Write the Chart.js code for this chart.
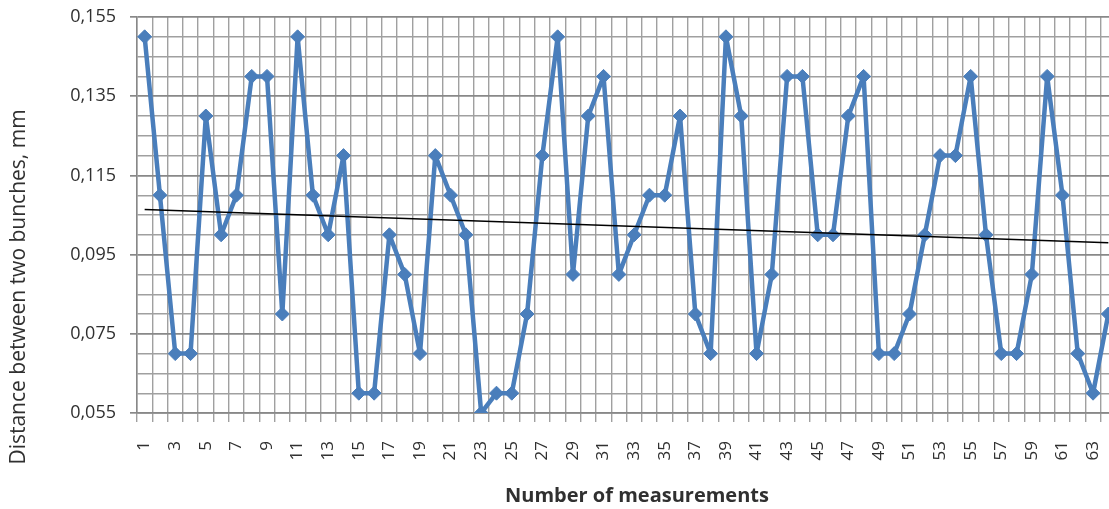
<!DOCTYPE html>
<html>
<head>
<meta charset="utf-8">
<script src="https://cdn.jsdelivr.net/npm/chart.js@4/dist/chart.umd.min.js"></script>
<style>
  html, body { margin: 0; padding: 0; background: #fff; overflow: hidden; }
  #wrap { width: 1124px; height: 509px; }
</style>
</head>
<body>
<div id="wrap"><canvas id="chart" width="1124" height="509"></canvas></div>
<script>
// measurement numbers 1..64
const measurements = ['1','2','3','4','5','6','7','8','9','10','11','12','13','14','15','16',
  '17','18','19','20','21','22','23','24','25','26','27','28','29','30','31','32',
  '33','34','35','36','37','38','39','40','41','42','43','44','45','46','47','48',
  '49','50','51','52','53','54','55','56','57','58','59','60','61','62','63','64'];

// distance between two bunches, mm
const distances = [
  0.150, 0.110, 0.070, 0.070, 0.130, 0.100, 0.110, 0.140, 0.140, 0.080,
  0.150, 0.110, 0.100, 0.120, 0.060, 0.060, 0.100, 0.090, 0.070, 0.120,
  0.110, 0.100, 0.055, 0.060, 0.060, 0.080, 0.120, 0.150, 0.090, 0.130,
  0.140, 0.090, 0.100, 0.110, 0.110, 0.130, 0.080, 0.070, 0.150, 0.130,
  0.070, 0.090, 0.140, 0.140, 0.100, 0.100, 0.130, 0.140, 0.070, 0.070,
  0.080, 0.100, 0.120, 0.120, 0.140, 0.100, 0.070, 0.070, 0.090, 0.140,
  0.110, 0.070, 0.060, 0.080
];

// linear trend line, end points
const trendPoints = [
  { x: '1', y: 0.1064 },
  { x: '64', y: 0.0980 }
];

const yTickLabels = ['0,055', '0,075', '0,095', '0,115', '0,135', '0,155'];

const textColor = '#303030';
const gridColor = '#a0a0a0';
const majorGrid = '#888888';

function isMajor(v) {
  const i = Math.round((v - 0.055) / 0.005);
  return i % 4 === 0;
}

// axis titles drawn where the original has them
const axisTitles = {
  id: 'axisTitles',
  afterDraw(chart) {
    const ctx = chart.ctx;
    ctx.save();
    ctx.fillStyle = textColor;
    ctx.textAlign = 'center';
    ctx.textBaseline = 'middle';
    ctx.font = 'bold 20px "Open Sans"';
    ctx.fillText('Number of measurements', 637, 496);
    ctx.translate(19, 287);
    ctx.rotate(-Math.PI / 2);
    ctx.font = '21px "Open Sans"';
    ctx.fillText('Distance between two bunches, mm', 0, 0);
    ctx.restore();
  }
};

const ctx = document.getElementById('chart').getContext('2d');
new Chart(ctx, {
  type: 'line',
  data: {
    labels: measurements,
    datasets: [{
      data: distances,
      borderColor: '#4a7ebb',
      backgroundColor: '#4a7ebb',
      borderWidth: 4.5,
      borderJoinStyle: 'round',
      pointStyle: 'rectRot',
      pointRadius: 7,
      pointBorderWidth: 1,
      tension: 0,
      order: 2
    }, {
      data: trendPoints,
      borderColor: '#000000',
      borderWidth: 1.5,
      pointRadius: 0,
      tension: 0,
      order: 1
    }]
  },
  options: {
    responsive: false,
    animation: false,
    layout: { padding: { top: 17, right: 0, left: 0, bottom: 0 } },
    plugins: {
      legend: { display: false },
      tooltip: { enabled: false }
    },
    scales: {
      x: {
        offset: true,
        afterFit(scale) {
          scale.height = 96;
          scale.paddingLeft = 0;
          scale.paddingRight = 0;
        },
        grid: {
          color: gridColor,
          lineWidth: 1.4,
          offset: true,
          tickLength: 9,
          tickColor: gridColor
        },
        border: { color: '#888', width: 1.5 },
        ticks: {
          autoSkip: false,
          maxRotation: 90,
          minRotation: 90,
          padding: 19,
          color: textColor,
          font: { family: '"Open Sans"', size: 17 },
          callback: (v, i) => (i % 2 === 0 ? measurements[i] : '')
        }
      },
      y: {
        min: 0.055,
        max: 0.155,
        afterFit(scale) {
          scale.width = 137;
          scale.paddingTop = 0;
          scale.paddingBottom = 0;
        },
        grid: {
          color: c => isMajor(c.tick.value) ? majorGrid : gridColor,
          lineWidth: c => isMajor(c.tick.value) ? 1.7 : 1.4,
          tickLength: 7,
          tickColor: c => isMajor(c.tick.value) ? majorGrid : 'rgba(0,0,0,0)'
        },
        border: { color: '#888', width: 1.5 },
        ticks: {
          stepSize: 0.005,
          autoSkip: false,
          padding: 14,
          color: textColor,
          font: { family: '"Open Sans"', size: 18 },
          callback: v => {
            const i = Math.round((v - 0.055) / 0.005);
            return i % 4 === 0 ? yTickLabels[i / 4] : '';
          }
        }
      }
    }
  },
  plugins: [axisTitles]
});
</script>
</body>
</html>
